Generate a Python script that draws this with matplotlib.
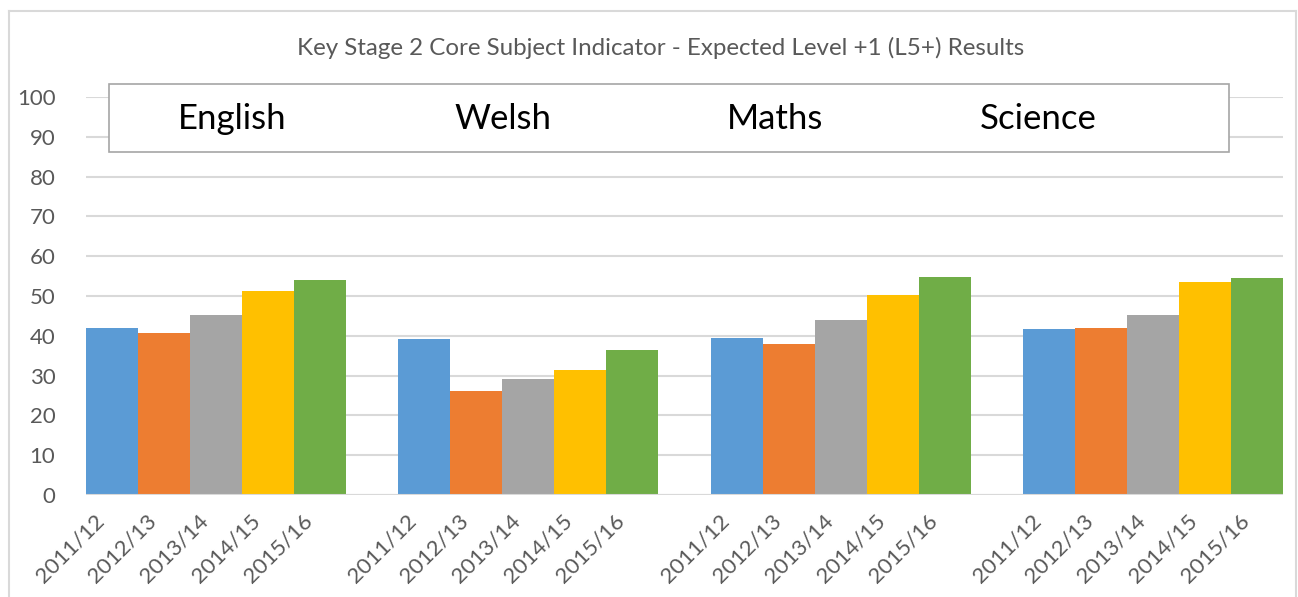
import matplotlib
matplotlib.use("Agg")
import matplotlib.pyplot as plt
from matplotlib.patches import Rectangle
from matplotlib.lines import Line2D
from matplotlib.transforms import ScaledTranslation

subjects = ["English", "Welsh", "Maths", "Science"]
years = ["2011/12", "2012/13", "2013/14", "2014/15", "2015/16"]
english = [42.0, 40.7, 45.2, 51.3, 54.0]
welsh = [39.2, 26.1, 29.1, 31.4, 36.4]
maths = [39.4, 37.9, 44.0, 50.2, 54.8]
science = [41.8, 42.0, 45.2, 53.5, 54.5]
title = "Key Stage 2 Core Subject Indicator - Expected Level +1 (L5+) Results"

colors = ["#5B9BD5", "#ED7D31", "#A5A5A5", "#FFC000", "#70AD47"]
plt.rcParams['font.family'] = ['Lato', 'DejaVu Sans']

W, H = 1298, 597
fig = plt.figure(figsize=(W / 100, H / 100), dpi=100)
ax = fig.add_axes([86 / W, 1 - 495 / H, 1197 / W, 398 / H])

groups = [english, welsh, maths, science]
positions = []
labels = []
for g, vals in enumerate(groups):
    for i, v in enumerate(vals):
        x = g * 6 + i
        ax.bar(x, v, width=1.0, color=colors[i], linewidth=0, zorder=3)
        positions.append(x)
        labels.append(years[i])

ax.set_xlim(-0.5, 22.5)
ax.set_ylim(0, 100)
ax.set_yticks(range(0, 101, 10))
ax.yaxis.grid(True, color="#D9D9D9", linewidth=1.5, zorder=0)
ax.set_axisbelow(True)
for s in ax.spines.values():
    s.set_visible(False)
ax.axhline(0, color="#D9D9D9", linewidth=1.5, zorder=4)
ax.tick_params(axis='both', length=0, colors="#595959", labelsize=16)
ax.tick_params(axis='y', pad=22)
ax.set_xticks(positions)
ax.set_xticklabels(labels, rotation=45, ha='right', rotation_mode='anchor')
off = ScaledTranslation(-18 / 100, -11 / 100, fig.dpi_scale_trans)
for lab in ax.get_xticklabels():
    lab.set_transform(lab.get_transform() + off)

fig.text(661 / W, 1 - 48 / H, title, ha='center', va='center', fontsize=17.4, color="#595959")

# text box with subject names
box = Rectangle((109 / W, 1 - 152 / H), (1229 - 109) / W, (152 - 84) / H,
                transform=fig.transFigure, facecolor='white', edgecolor='#A6A6A6',
                linewidth=1.2, zorder=10)
fig.patches.append(box)
name_x = [232, 503, 775, 1038]
for nx, name in zip(name_x, subjects):
    fig.text(nx / W, 1 - 119 / H, name, ha='center', va='center', fontsize=25,
             color='black', zorder=11)

# chart border
bc = "#D9D9D9"
fig.lines.append(Line2D([9 / W, 9 / W], [0, 1 - 11 / H], transform=fig.transFigure, color=bc, linewidth=1.5))
fig.lines.append(Line2D([9 / W, 1296 / W], [1 - 11 / H, 1 - 11 / H], transform=fig.transFigure, color=bc, linewidth=1.5))
fig.lines.append(Line2D([1296 / W, 1296 / W], [0, 1 - 11 / H], transform=fig.transFigure, color=bc, linewidth=1.5))

fig.savefig("out.png", dpi=100)
